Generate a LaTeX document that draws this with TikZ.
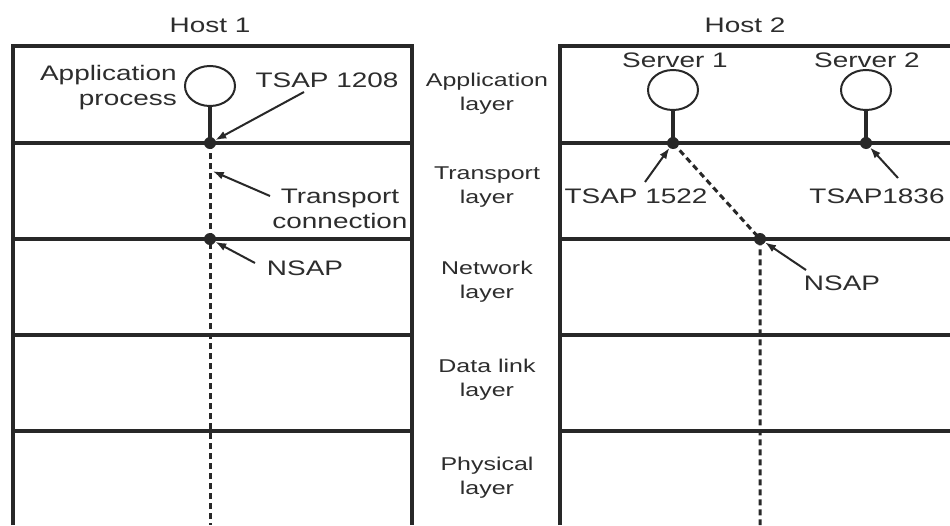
\documentclass[tikz,border=0pt]{standalone}
\usepackage{fontspec}
\setmainfont{Liberation Sans}
\usetikzlibrary{arrows.meta,shapes.geometric}
\definecolor{lc}{RGB}{40,40,40}
\definecolor{tc}{RGB}{45,45,45}
\begin{document}
\begin{tikzpicture}[x=1pt,y=-1pt,
  boxline/.style={draw=lc,line width=3.2pt},
  proc/.style={draw=lc,ellipse,line width=2pt,minimum width=50pt,minimum height=40pt,inner sep=0pt},
  stem/.style={draw=lc,line width=3.4pt},
  dotline/.style={draw=lc,line width=3pt,dash pattern=on 6pt off 4pt},
  pointer/.style={draw=lc,line width=2pt,-{Latex[length=11pt,width=8pt]},shorten >=6pt},
  lbl/.style={text=tc,font=\fontsize{21}{25}\selectfont,xscale=1.33,inner sep=0pt,align=center},
  mid/.style={text=tc,font=\fontsize{18.5}{24}\selectfont,xscale=1.35,inner sep=0pt,align=center},
  dotmark/.style={fill=lc}
]
\useasboundingbox[fill=white] (0,0) rectangle (950,525);

% Host boxes
\draw[boxline] (13,525) -- (13,46) -- (412,46) -- (412,525);
\foreach \y in {143,239,335,431} \draw[boxline] (13,\y) -- (412,\y);
\draw[boxline] (560,525) -- (560,46) -- (950,46);
\foreach \y in {143,239,335,431} \draw[boxline] (560,\y) -- (950,\y);

% Titles
\node[lbl] (h1) at (210,25) {Host 1};
\node[lbl] (h2) at (745,25) {Host 2};

% Middle layer labels
\node[mid] (la) at (487,94) {Application\\layer};
\node[mid] (lt) at (487,187) {Transport\\layer};
\node[mid] (lnw) at (487,282) {Network\\layer};
\node[mid] (ld) at (487,380) {Data link\\layer};
\node[mid] (lp) at (487,478) {Physical\\layer};

% Host 1
\node[proc] (ap) at (210,86) {};
\coordinate (t1208) at (210,143);
\coordinate (n1) at (210,239);
\coordinate (b1) at (210,525);
\draw[stem] (ap.south) -- (t1208);
\draw[dotline] (t1208) -- (n1) -- (b1);
\fill[dotmark] (t1208) circle (6);
\fill[dotmark] (n1) circle (6);

\node[lbl,align=right,anchor=east] (apl) at (177,88) {Application\\process};
\node[lbl] (ts1) at (327,80) {TSAP 1208};
\node[lbl] (tc1) at (340,209) {Transport\\connection};
\node[lbl] (ns1) at (305,268) {NSAP};

\coordinate (ts1t) at (304,92);
\coordinate (tc1t) at (270,196);
\coordinate (tc1h) at (210,170);
\coordinate (ns1t) at (255,263);
\draw[pointer] (ts1t) -- (t1208);
\draw[pointer,shorten >=3pt] (tc1t) -- (tc1h);
\draw[pointer] (ns1t) -- (n1);

% Host 2
\node[lbl] (sv1l) at (675,60) {Server 1};
\node[lbl] (sv2l) at (867,60) {Server 2};
\node[proc] (s1) at (673,90) {};
\node[proc] (s2) at (866,90) {};
\coordinate (t1522) at (673,143);
\coordinate (t1836) at (866,143);
\coordinate (n2) at (760,239);
\coordinate (b2) at (760,525);
\draw[stem] (s1.south) -- (t1522);
\draw[stem] (s2.south) -- (t1836);
\draw[dotline] (t1522) -- (n2) -- (b2);
\fill[dotmark] (t1522) circle (6);
\fill[dotmark] (t1836) circle (6);
\fill[dotmark] (n2) circle (6);

\node[lbl] (ts2) at (636,196) {TSAP 1522};
\node[lbl] (ts3) at (877,196) {TSAP1836};
\node[lbl] (ns2) at (842,283) {NSAP};

\coordinate (ts2t) at (645,182);
\coordinate (ts3t) at (898,178);
\coordinate (ns2t) at (806,270);
\draw[pointer] (ts2t) -- (t1522);
\draw[pointer] (ts3t) -- (t1836);
\draw[pointer] (ns2t) -- (n2);
\end{tikzpicture}
\end{document}
